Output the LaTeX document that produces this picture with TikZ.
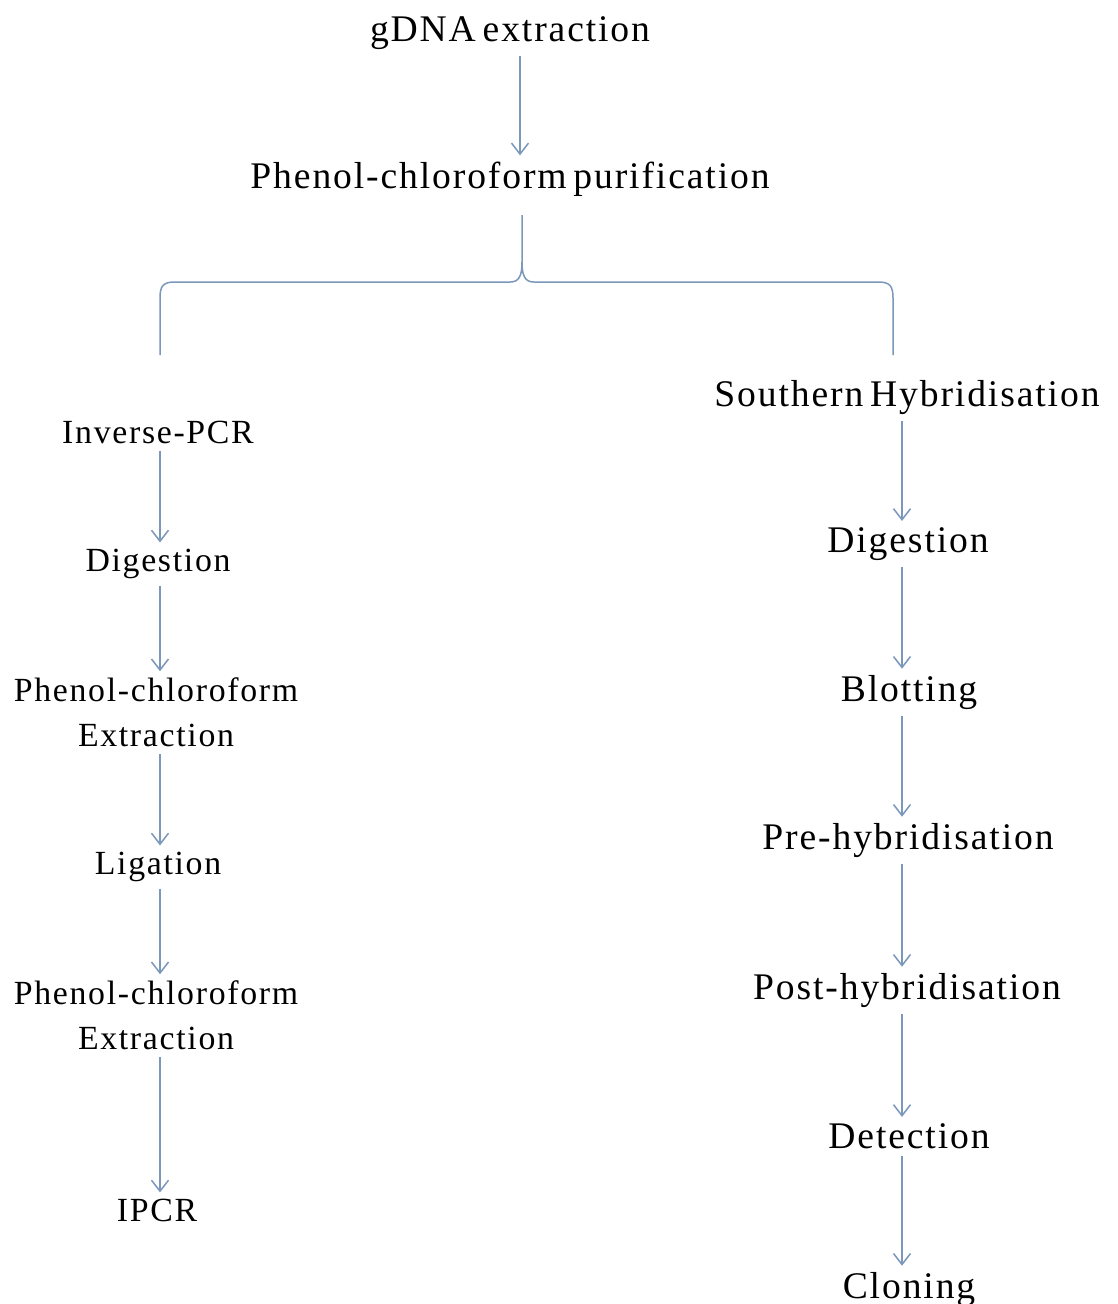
\documentclass[tikz,border=0pt]{standalone}
\usepackage{fontspec}
\setmainfont{Liberation Serif}[LetterSpace=5, WordSpace=0.6]
\usetikzlibrary{arrows.meta, positioning}
\definecolor{linkblue}{HTML}{7B97BA}

\begin{document}
\begin{tikzpicture}[
    x=1pt, y=-1pt,
    >={Straight Barb[length=11pt,width=17pt]},
    bigstep/.style={inner sep=0pt, anchor=base, font=\fontsize{37.6}{44}\selectfont},
    smallstep/.style={inner sep=0pt, anchor=base, font=\fontsize{33.8}{45}\selectfont},
    twoline/.style={inner sep=0pt, align=center, font=\fontsize{33.8}{45}\selectfont},
    link/.style={->, line width=1.5pt, linkblue, shorten <=7pt, shorten >=6pt}
  ]
    \fill[white] (0,0) rectangle (1118,1304);
    \useasboundingbox (0,0) rectangle (1118,1304);

    % columns
    \coordinate (mcol) at (520,0);
    \coordinate (lcol) at (160,0);
    \coordinate (rcol) at (902,0);

    \node[bigstep] (gdna) at (510,41) {gDNA extraction};
    \node[bigstep] (purif) at (510,188) {Phenol-chloroform purification};

    % inverse PCR branch
    \node[smallstep] (ipcr) at (158,443) {Inverse-PCR};
    \node[smallstep] (dig1) at (158,571) {Digestion};
    \node[twoline] (pce1) at (156,712) {Phenol-chloroform\\Extraction};
    \node[smallstep] (lig) at (158,874) {Ligation};
    \node[twoline] (pce2) at (156,1015) {Phenol-chloroform\\Extraction};
    \node[smallstep] (ipcrend) at (157,1221) {IPCR};

    % southern branch
    \node[bigstep] (south) at (907,406) {Southern Hybridisation};
    \node[bigstep] (dig2) at (908,552) {Digestion};
    \node[bigstep] (blot) at (909,701) {Blotting};
    \node[bigstep] (prehyb) at (908,849) {Pre-hybridisation};
    \node[bigstep] (posthyb) at (907,999) {Post-hybridisation};
    \node[bigstep] (detect) at (909,1148) {Detection};
    \node[bigstep] (clone) at (909,1298) {Cloning};

    % brace
    \coordinate (bracetop) at (522,215);
    \coordinate (bracetip) at (522,262);
    \coordinate (braceL) at (160,355);
    \coordinate (braceR) at (893,355);
    \draw[linkblue, line width=1.5pt] (braceL) -- (160,298) .. controls (160,286) and (163,282) .. (175,282)
      -- (510,282) .. controls (519,282) and (522,276) .. (bracetip) -- (bracetop);
    \draw[linkblue, line width=1.5pt] (bracetip) .. controls (522,276) and (525,282) .. (534,282)
      -- (878,282) .. controls (890,282) and (893,286) .. (893,298) -- (braceR);

    \draw[link] (gdna.south -| mcol) -- (purif.north -| mcol);

    \draw[link] (ipcr.south -| lcol) -- (dig1.north -| lcol);
    \draw[link] (dig1.south -| lcol) -- (pce1.north -| lcol);
    \draw[link] (pce1.south -| lcol) -- (lig.north -| lcol);
    \draw[link] (lig.south -| lcol) -- (pce2.north -| lcol);
    \draw[link] (pce2.south -| lcol) -- (ipcrend.north -| lcol);

    \draw[link] (south.south -| rcol) -- (dig2.north -| rcol);
    \draw[link] (dig2.south -| rcol) -- (blot.north -| rcol);
    \draw[link] (blot.south -| rcol) -- (prehyb.north -| rcol);
    \draw[link] (prehyb.south -| rcol) -- (posthyb.north -| rcol);
    \draw[link] (posthyb.south -| rcol) -- (detect.north -| rcol);
    \draw[link] (detect.south -| rcol) -- (clone.north -| rcol);
\end{tikzpicture}
\end{document}
